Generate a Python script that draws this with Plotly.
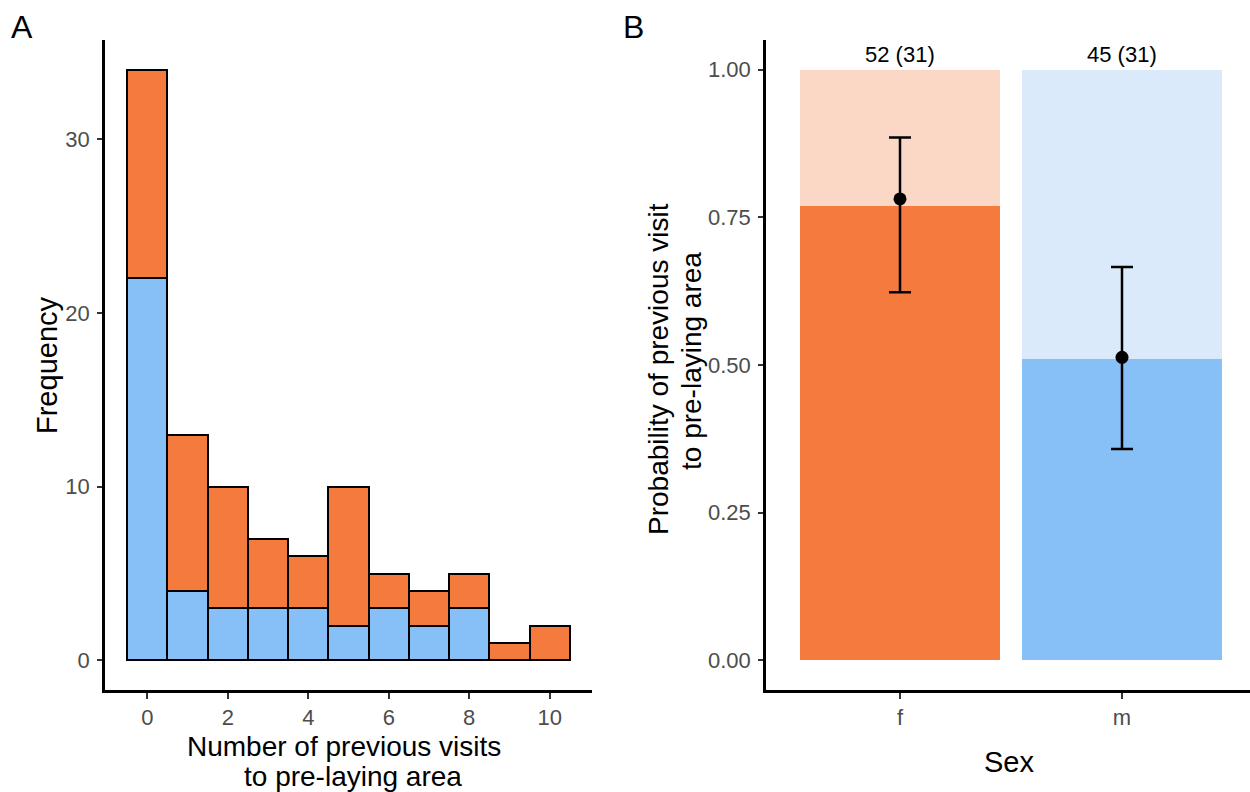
import plotly.graph_objects as go

# ---- Data ----
visits = [0, 1, 2, 3, 4, 5, 6, 7, 8, 9, 10]
count_m = [22, 4, 3, 3, 3, 2, 3, 2, 3, 0, 0]
count_f = [12, 9, 7, 4, 3, 8, 2, 2, 2, 1, 2]

sexes = ["f", "m"]
obs_prop = [0.769, 0.511]
est = [0.781, 0.513]
ci_low = [0.623, 0.358]
ci_high = [0.885, 0.666]
n_labels = ["52 (31)", "45 (31)"]

ORANGE = "#F47A3D"
BLUE = "#87BFF7"
LIGHT_ORANGE = "#FBD7C5"
LIGHT_BLUE = "#DBEAFB"
dark_cols = [ORANGE, BLUE]
light_cols = [LIGHT_ORANGE, LIGHT_BLUE]

W, H = 1250, 792
FONT = "Liberation Sans, Arial, sans-serif"
TICK_COL = "#4D4D4D"

def px_x(p):
    return p / W

def px_y(p):
    return 1 - p / H

fig = go.Figure()

# Panel A: stacked histogram
fig.add_trace(go.Bar(x=visits, y=count_m, width=1, marker=dict(color=BLUE, line=dict(color="black", width=2.4)),
                     xaxis="x", yaxis="y", showlegend=False, hoverinfo="x+y"))
fig.add_trace(go.Bar(x=visits, y=count_f, width=1, marker=dict(color=ORANGE, line=dict(color="black", width=2.4)),
                     xaxis="x", yaxis="y", showlegend=False, hoverinfo="x+y"))

# Panel B: probability bars
fig.add_trace(go.Bar(x=sexes, y=obs_prop, width=0.9, marker=dict(color=dark_cols, line=dict(width=0)),
                     xaxis="x2", yaxis="y2", showlegend=False))
fig.add_trace(go.Bar(x=sexes, y=[1 - v for v in obs_prop], width=0.9, marker=dict(color=light_cols, line=dict(width=0)),
                     xaxis="x2", yaxis="y2", showlegend=False))
fig.add_trace(go.Scatter(
    x=sexes, y=est, mode="markers",
    marker=dict(color="black", size=13),
    error_y=dict(type="data", symmetric=False,
                 array=[h - e for h, e in zip(ci_high, est)],
                 arrayminus=[e - l for e, l in zip(est, ci_low)],
                 color="black", thickness=2.5, width=11),
    xaxis="x2", yaxis="y2", showlegend=False))

base_axis = dict(showline=True, linecolor="black", linewidth=2.5, showgrid=False, zeroline=False,
                 ticks="outside", tickwidth=2, tickcolor="#333333",
                 tickfont=dict(family=FONT, size=22, color=TICK_COL))
x_axis_style = dict(base_axis, ticklen=6)
y_axis_style = dict(base_axis, ticklen=5, ticklabelstandoff=3)

ydom = [px_y(690), px_y(40)]

fig.update_layout(
    width=W, height=H, margin=dict(l=0, r=0, t=0, b=0),
    plot_bgcolor="white", paper_bgcolor="white",
    barmode="stack", bargap=0,
    xaxis=dict(domain=[px_x(105), px_x(592)], range=[-1.05, 11.05], tickvals=[0, 2, 4, 6, 8, 10],
               anchor="y", **x_axis_style),
    yaxis=dict(domain=ydom, range=[-1.7, 35.7], tickvals=[0, 10, 20, 30], anchor="x", **y_axis_style),
    xaxis2=dict(domain=[px_x(766), 1.0], range=[-0.6036, 1.5766], type="category",
                categoryorder="array", categoryarray=sexes, anchor="y2", **x_axis_style),
    yaxis2=dict(domain=ydom, range=[-0.05, 1.05], tickvals=[0, 0.25, 0.5, 0.75, 1.0], tickformat=".2f",
                anchor="x2", **y_axis_style),
)

ann = []
for s, lab in zip(sexes, n_labels):
    ann.append(dict(x=s, y=1.0, xref="x2", yref="y2", text=lab, showarrow=False, yanchor="bottom",
                    yshift=1, font=dict(family=FONT, size=22, color="black")))

def title(text, x, y, angle=0, size=28):
    return dict(x=px_x(x), y=px_y(y), xref="paper", yref="paper", text=text, showarrow=False,
                xanchor="center", yanchor="middle", textangle=angle, borderpad=0,
                font=dict(family=FONT, size=size, color="black"))

ann += [
    title("Number of previous visits", 344, 746),
    title("to pre-laying area", 353, 776),
    title("Frequency", 47, 365, angle=-90, size=29),
    title("Sex", 1009, 762, size=29),
    title("Probability of previous visit", 659, 369, angle=-90),
    title("to pre-laying area", 691, 361, angle=-90),
    title("A", 22, 27, size=32),
    title("B", 633, 27, size=32),
]
fig.update_layout(annotations=ann)

fig.write_html("out.html")
